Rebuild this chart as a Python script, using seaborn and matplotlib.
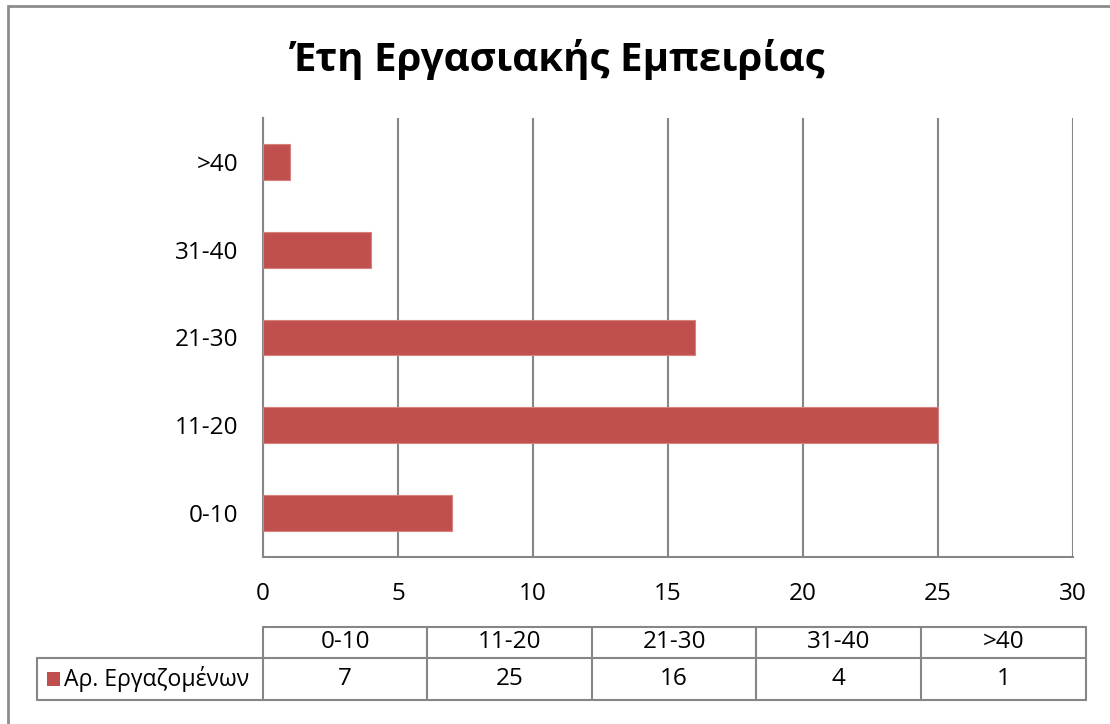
import matplotlib
matplotlib.use("Agg")
import matplotlib.pyplot as plt
from matplotlib.lines import Line2D
from matplotlib.patches import Rectangle
import seaborn as sns
import pandas as pd

# Years of work experience vs. number of employees
categories = ["0-10", "11-20", "21-30", "31-40", ">40"]
employees = [7, 25, 16, 4, 1]
series_name = "Αρ. Εργαζομένων"
title = "Έτη Εργασιακής Εμπειρίας"
x_ticks = [0, 5, 10, 15, 20, 25, 30]

BAR = "#C0504D"
GRID = "#868686"
TEXT = "#000000"
FS = 17.5

sns.set_theme(style="white")
plt.rcParams["font.family"] = ["Open Sans", "DejaVu Sans"]

W, H = 1110, 724
fig = plt.figure(figsize=(W / 100, H / 100), dpi=100)
fig.patch.set_facecolor("white")


def fx(x):
    return x / W


def fy(y):
    return 1 - y / H


# plot area
ax = fig.add_axes([fx(263), fy(557), fx(1073) - fx(263), fy(118) - fy(557)])

df = pd.DataFrame({"cat": categories, "val": employees})
sns.barplot(data=df, x="val", y="cat", order=categories[::-1], color=BAR,
            saturation=1, width=0.41, edgecolor="#D7827F", linewidth=0.8,
            ax=ax, zorder=3)

ax.set_xlim(x_ticks[0], x_ticks[-1])
ax.set_ylim(len(categories) - 0.5, -0.5)
ax.set_xticks(x_ticks)
ax.set_xlabel("")
ax.set_ylabel("")
ax.xaxis.grid(True, color=GRID, linewidth=1.5, zorder=0)
ax.yaxis.grid(False)
ax.set_axisbelow(True)
for side in ["top", "right"]:
    ax.spines[side].set_visible(False)
for side in ["left", "bottom"]:
    ax.spines[side].set_color(GRID)
    ax.spines[side].set_linewidth(1.5)
ax.tick_params(axis="both", length=0, labelsize=FS, colors=TEXT)
ax.tick_params(axis="y", pad=18)
ax.tick_params(axis="x", pad=18)

# title
fig.text(fx(558), fy(60), title, ha="center", va="center",
         fontsize=29, fontweight="bold", color=TEXT)

# data table under the axis
col_edges = [263, 427, 592, 756, 921, 1086]
row_top, row_mid, row_bot = 627, 658, 700
label_left = 37
lw = 1.5

def hline(y, x0, x1):
    fig.add_artist(Line2D([fx(x0), fx(x1)], [fy(y), fy(y)], color=GRID, lw=lw))


def vline(x, y0, y1):
    fig.add_artist(Line2D([fx(x), fx(x)], [fy(y0), fy(y1)], color=GRID, lw=lw))


hline(row_top, col_edges[0], col_edges[-1])
hline(row_mid, label_left, col_edges[-1])
hline(row_bot, label_left, col_edges[-1])
vline(label_left, row_mid, row_bot)
for x in col_edges:
    vline(x, row_top, row_bot)

for i, (cat, val) in enumerate(zip(categories, employees)):
    cx = (col_edges[i] + col_edges[i + 1]) / 2
    fig.text(fx(cx), fy((row_top + row_mid) / 2), cat, ha="center",
             va="center", fontsize=FS, color=TEXT)
    fig.text(fx(cx), fy((row_mid + row_bot) / 2), str(val), ha="center",
             va="center", fontsize=FS, color=TEXT)

# legend key inside the row header cell
fig.add_artist(Rectangle((fx(47), fy(686)), fx(60) - fx(47), fy(672) - fy(686),
                         facecolor=BAR, edgecolor="none"))
fig.text(fx(64), fy((row_mid + row_bot) / 2), series_name, ha="left",
         va="center", fontsize=16.6, color=TEXT)

# chart border
fig.add_artist(Rectangle((fx(7.5), fy(730)), fx(1120) - fx(7.5), fy(5.5) - fy(730),
                         facecolor="none", edgecolor="#8C8C8C", lw=2))

fig.savefig("out.png", dpi=100)
